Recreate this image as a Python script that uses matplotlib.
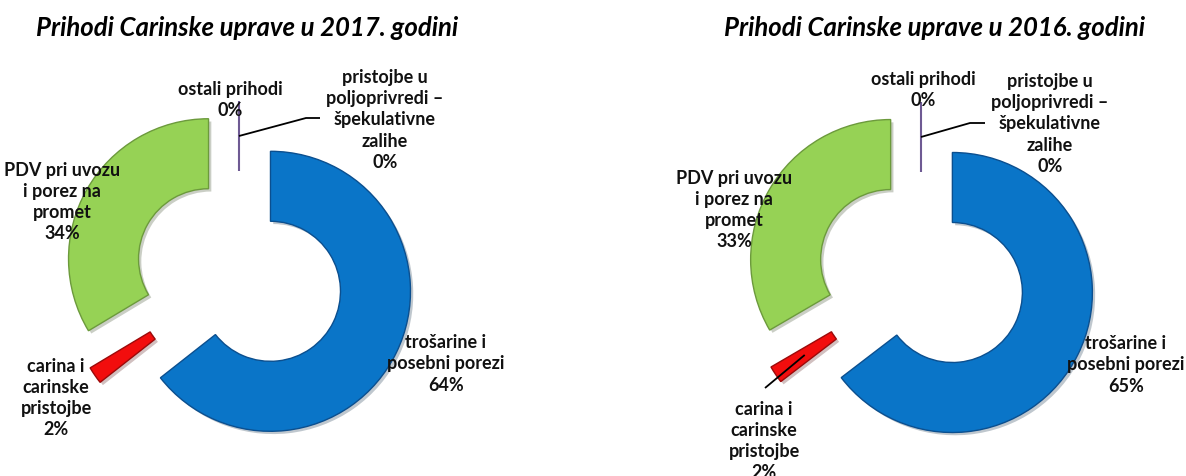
import numpy as np
import matplotlib
matplotlib.use("Agg")
import matplotlib.pyplot as plt
import matplotlib.patheffects as pe

plt.rcParams['font.family'] = ['Lato', 'DejaVu Sans']

# podaci
kategorije = ['trošarine i\nposebni porezi', 'carina i\ncarinske\npristojbe',
              'PDV pri uvozu\ni porez na\npromet', 'ostali prihodi',
              'pristojbe u\npoljoprivredi –\nšpekulativne\nzalihe']
udio_2017 = [64.4, 2.0, 33.6, 0.0, 0.0]
udio_2016 = [64.6, 2.0, 33.4, 0.0, 0.0]
naslov_2017 = 'Prihodi Carinske uprave u 2017. godini'
naslov_2016 = 'Prihodi Carinske uprave u 2016. godini'

boje = ['#0a75c8', '#f20d0d', '#96d255', '#8064a2', '#4bacc6']
rubovi = ['#0b4f8f', '#9c0a0a', '#6c9a3c', '#6e5a93', 'none']

W, H = 1186, 477
R = 140
fig = plt.figure(figsize=(W / 100, H / 100), dpi=100)
ax = fig.add_axes([0, 0, 1, 1])


def px(x, y):
    # piksel u slici -> koordinate osi (y prema gore)
    return x, H - y


def crtaj(udio, centar, naslov, naslov_x, oznake, vodici):
    # explode je u jedinicama osi (0.25 polumjera)
    wedges, _ = ax.pie(udio, colors=boje, startangle=90, counterclock=False,
                       radius=R, center=px(*centar), explode=[0.25 * R] * len(udio),
                       wedgeprops=dict(width=R / 2, linewidth=1.0),
                       normalize=True, frame=True)
    for w, ec in zip(wedges, rubovi):
        if ec == 'none':
            w.set_linewidth(0)
        else:
            w.set_edgecolor(ec)
            w.set_path_effects([pe.SimplePatchShadow(offset=(2, -2), alpha=0.25),
                                pe.Normal()])
    wedges[3].set_linewidth(1.5)
    wedges[3].set_path_effects([])

    for i, (x, y) in oznake.items():
        tekst = kategorije[i] + '\n%d%%' % round(udio[i])
        ax.text(*px(x, y), tekst, ha='center', va='center', fontsize=13,
                fontweight='bold', linespacing=1.3, color='#111111')

    # linije vodilice od sredine prstena
    for i, tocke in vodici.items():
        w = wedges[i]
        kut = np.deg2rad((w.theta1 + w.theta2) / 2)
        rr = w.r - w.width / 2
        x0 = w.center[0] + rr * np.cos(kut)
        y0 = w.center[1] + rr * np.sin(kut)
        xs = [x0] + [px(*t)[0] for t in tocke]
        ys = [y0] + [px(*t)[1] for t in tocke]
        ax.plot(xs, ys, color='black', lw=1.3, solid_capstyle='butt')

    ax.text(*px(naslov_x, 28), naslov, ha='center', va='center', fontsize=18.5,
            fontweight='bold', fontstyle='italic')


crtaj(udio_2017, (239, 277), naslov_2017, 247,
      {0: (446, 364), 1: (56, 398), 2: (62, 202), 3: (230, 100), 4: (385, 120)},
      {4: [(306, 119), (320, 119)]})
crtaj(udio_2016, (921, 278), naslov_2016, 935,
      {0: (1126, 365), 1: (764, 441), 2: (734, 210), 3: (923, 90), 4: (1050, 124)},
      {4: [(970, 124), (985, 124)], 1: [(765, 389)]})

ax.set_xlim(0, W)
ax.set_ylim(0, H)
ax.set_aspect('auto')
ax.axis('off')

fig.savefig('out.png', dpi=100)
